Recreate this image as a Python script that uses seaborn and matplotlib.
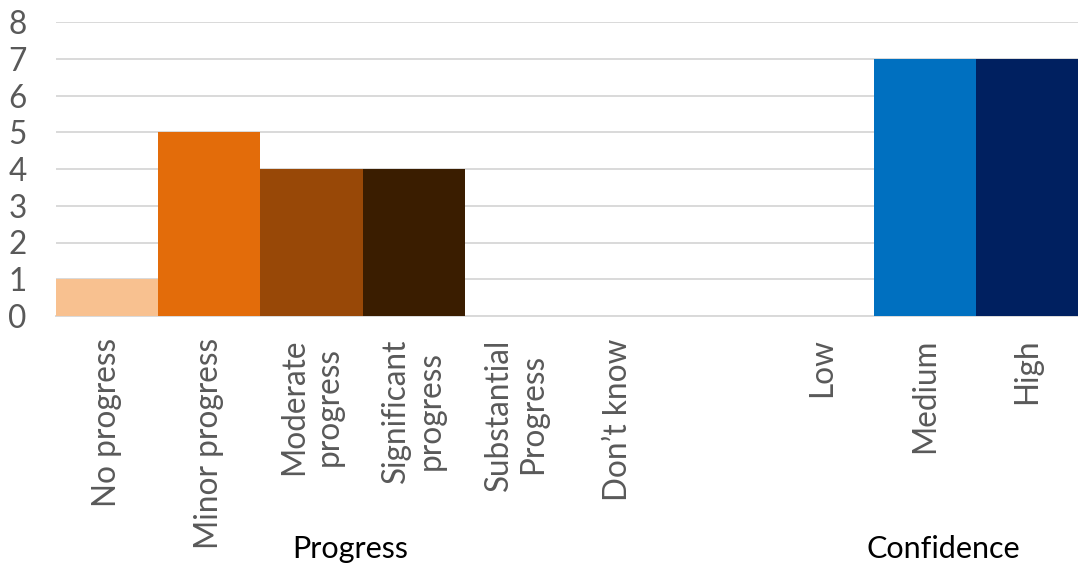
import matplotlib
matplotlib.use("Agg")
import matplotlib.pyplot as plt
import matplotlib.transforms as mtransforms
import seaborn as sns
import pandas as pd

# ---- data ----
categories = ["No progress", "Minor progress", "Moderate progress", "Significant progress",
              "Substantial Progress", "Don’t know", "(gap)", "Low", "Medium", "High"]
tick_labels = ["No progress", "Minor progress", "Moderate\nprogress", "Significant\nprogress",
               "Substantial\nProgress", "Don’t know", "", "Low", "Medium", "High"]
values = [1, 5, 4, 4, 0, 0, 0, 0, 7, 7]
bar_colors = ["#F8C190", "#E36C0A", "#984807", "#3A1D00", "#C0C0C0", "#C0C0C0",
              "#FFFFFF", "#C0C0C0", "#0070C0", "#002060"]
group_labels = ["Progress", "Confidence"]
group_centers = [2.38, 8.18]  # in category units

sns.set_theme(style="white")
plt.rcParams["font.family"] = ["Lato", "DejaVu Sans"]

df = pd.DataFrame({"category": categories, "value": values})
palette = dict(zip(categories, bar_colors))

fig = plt.figure(figsize=(10.78, 5.67), dpi=100)
ax = fig.add_axes([56 / 1078, 1 - 316 / 567, 1 - 56 / 1078, (316 - 22) / 567])

sns.barplot(data=df, x="category", y="value", hue="category", order=categories,
            palette=palette, dodge=False, legend=False, width=1.0,
            saturation=1, ax=ax, zorder=3, linewidth=0, edgecolor="none")

ax.set_ylim(0, 8)
ax.set_xlim(-0.5, 9.5)
ax.set_yticks(range(0, 9))
ax.set_xlabel("")
ax.set_ylabel("")
ax.yaxis.grid(True, color="#D9D9D9", linewidth=1.4, zorder=0)
ax.set_axisbelow(True)
for s in ["top", "right", "left"]:
    ax.spines[s].set_visible(False)
ax.spines["bottom"].set_color("#D9D9D9")
ax.spines["bottom"].set_linewidth(1.4)
ax.tick_params(axis="both", length=0, labelsize=22.7, colors="#595959")
ax.tick_params(axis="y", pad=21)
ax.tick_params(axis="x", pad=16)
ax.set_xticks(range(len(categories)))
ax.set_xticklabels(tick_labels, rotation=90, va="top", ha="center",
                   multialignment="center", linespacing=1.2)

trans = mtransforms.blended_transform_factory(ax.transData, fig.transFigure)
for lab, cx in zip(group_labels, group_centers):
    fig.text(cx, 1 - 549 / 567, lab, transform=trans, ha="center", va="center",
             fontsize=22, color="#000000")

fig.savefig("out.png", dpi=100)
